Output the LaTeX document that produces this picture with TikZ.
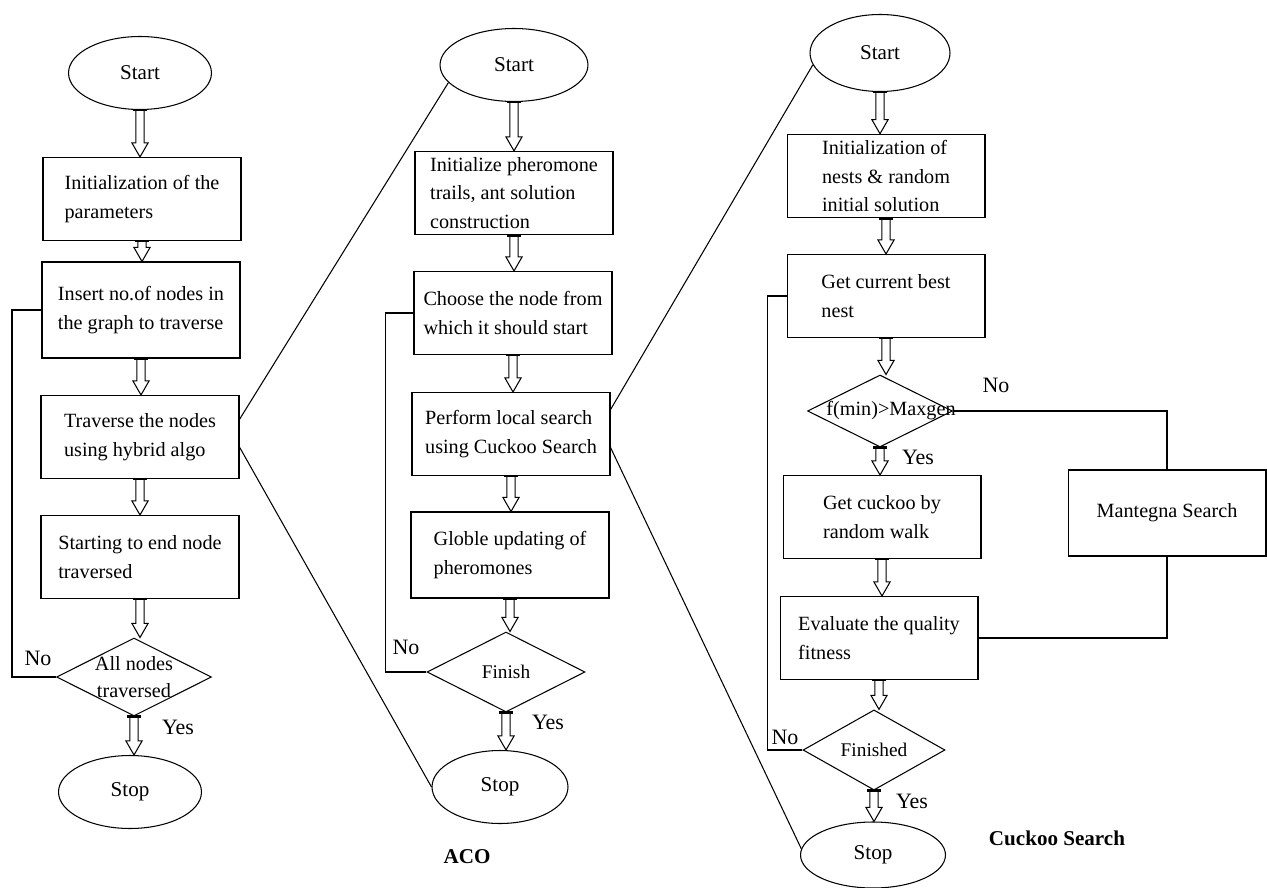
\documentclass[tikz,border=0pt]{standalone}
\usepackage{fontspec}
\setmainfont{Liberation Serif}
\usetikzlibrary{shapes.geometric,calc}

\tikzset{
  flowline/.style={line width=0.6pt},
  terminal/.style={ellipse, draw, flowline, font=\fontsize{12}{14}\selectfont, minimum width=2.86cm, minimum height=1.46cm},
  process/.style={rectangle, draw, flowline, align=left, minimum width=3.96cm, minimum height=1.66cm},
  decision/.style={diamond, draw, flowline, inner sep=0pt, font=\fontsize{11}{15.5}\selectfont, minimum width=3.1cm, minimum height=1.56cm},
  branch/.style={inner sep=1pt, font=\fontsize{12.5}{14}\selectfont},
  caption/.style={font=\fontsize{12}{14}\selectfont\bfseries}
}

\newcommand{\flowarrow}[2]{%
  \draw[flowline] let \p1=(#1.south), \p2=(#2.north) in
    (\x1-2.3pt,\y1) -- (\x1-2.3pt,\y2+8pt) -- (\x1-4.6pt,\y2+8pt) -- (\x1,\y2)
    -- (\x1+4.6pt,\y2+8pt) -- (\x1+2.3pt,\y2+8pt) -- (\x1+2.3pt,\y1);
  \draw[line width=1.6pt] let \p1=(#1.south) in (\x1-4pt,\y1) -- (\x1+4pt,\y1);}

\begin{document}
\begin{tikzpicture}[x=0.02cm, y=-0.02cm, font=\fontsize{11.5}{16.3}\selectfont]
  \useasboundingbox (0,0) rectangle (1267,888);

  % hybrid algorithm
  \node[terminal] (start1) at (140,73) {Start};
  \node[process] (init1) at (142,199) {Initialization of the\\parameters};
  \node[process, minimum height=1.92cm] (insert) at (141,310) {Insert no.of nodes in\\the graph to traverse};
  \node[process] (trav) at (140,437) {Traverse the nodes\\using hybrid algo};
  \node[process] (reach) at (140,557) {Starting to end node\\traversed};
  \node[decision, label={[align=center, font=\fontsize{11.5}{15.5}\selectfont]center:All nodes\\traversed}] (alln) at (134,677) {};
  \node[terminal] (stop1) at (130,792) {Stop};
  \node[branch] (no1) at (38,658) {No};
  \node[branch] (yes1) at (178,727) {Yes};

  \flowarrow{start1}{init1}
  \flowarrow{init1}{insert}
  \flowarrow{insert}{trav}
  \flowarrow{trav}{reach}
  \flowarrow{reach}{alln}
  \flowarrow{alln}{stop1}
  \draw[flowline] (alln.west) -- ++(-44,0) |- (insert.west);

  % ACO
  \node[terminal, minimum width=2.96cm] (start2) at (514,65) {Start};
  \node[process] (initph) at (514,193) {Initialize pheromone\\trails, ant solution\\construction};
  \node[process] (choose) at (513,313) {Choose the node from\\which it should start};
  \node[process] (local) at (511,434) {Perform local search\\using Cuckoo Search};
  \node[process, minimum height=1.72cm] (globle) at (510,555) {Globle updating of\\pheromones};
  \node[decision, minimum width=3.16cm, minimum height=1.6cm] (finish) at (506,672) {Finish};
  \node[terminal, minimum width=2.72cm] (stop2) at (500,787) {Stop};
  \node[branch] (no2) at (406,647) {No};
  \node[branch] (yes2) at (548,722) {Yes};
  \node[caption] (aco) at (467,857) {ACO};

  \flowarrow{start2}{initph}
  \flowarrow{initph}{choose}
  \flowarrow{choose}{local}
  \flowarrow{local}{globle}
  \flowarrow{globle}{finish}
  \flowarrow{finish}{stop2}
  \draw[flowline] (finish.west) -- ++(-41,0) |- (choose.west);

  % Cuckoo Search
  \node[terminal, minimum width=2.8cm, minimum height=1.54cm] (start3) at (880,53) {Start};
  \node[process] (initn) at (886,176) {Initialization of\\nests \& random\\initial solution};
  \node[process] (best) at (886,296) {Get current best\\nest};
  \node[decision, minimum width=2.9cm, minimum height=1.44cm, label={[xshift=0.22cm, font=\fontsize{11.5}{14}\selectfont]center:f(min)>Maxgen}] (fmin) at (880,411) {};
  \node[process] (walk) at (882,517) {Get cuckoo by\\random walk};
  \node[process, minimum height=1.72cm] (mant) at (1167,513) {Mantegna Search};
  \node[process] (eval) at (879,638) {Evaluate the quality\\fitness};
  \node[decision, minimum width=2.84cm, minimum height=1.38cm] (fin) at (874,750) {Finished};
  \node[terminal, minimum width=2.9cm, minimum height=1.32cm] (stop3) at (873,855) {Stop};
  \node[branch] (no3) at (996,385) {No};
  \node[branch] (yes3) at (918,457) {Yes};
  \node[branch] (no4) at (785,737) {No};
  \node[branch] (yes4) at (912,801) {Yes};
  \node[caption] (cuckoo) at (1057,838) {Cuckoo Search};

  \flowarrow{start3}{initn}
  \flowarrow{initn}{best}
  \flowarrow{best}{fmin}
  \flowarrow{fmin}{walk}
  \flowarrow{walk}{eval}
  \flowarrow{eval}{fin}
  \flowarrow{fin}{stop3}
  \draw[flowline] (fmin.east) -| (mant.north);
  \draw[flowline] (mant.south) |- (eval.east);
  \draw[flowline] (fin.west) -- ++(-35,0) |- (best.west);

  % links between the charts
  \draw[flowline] ($(trav.north east)!0.29!(trav.south east)$) -- (start2.195);
  \draw[flowline] ($(trav.north east)!0.62!(trav.south east)$) -- (stop2.west);
  \draw[flowline] ($(local.north east)!0.21!(local.south east)$) -- (start3.190);
  \draw[flowline] ($(local.north east)!0.66!(local.south east)$) -- (stop3.175);
\end{tikzpicture}
\end{document}
